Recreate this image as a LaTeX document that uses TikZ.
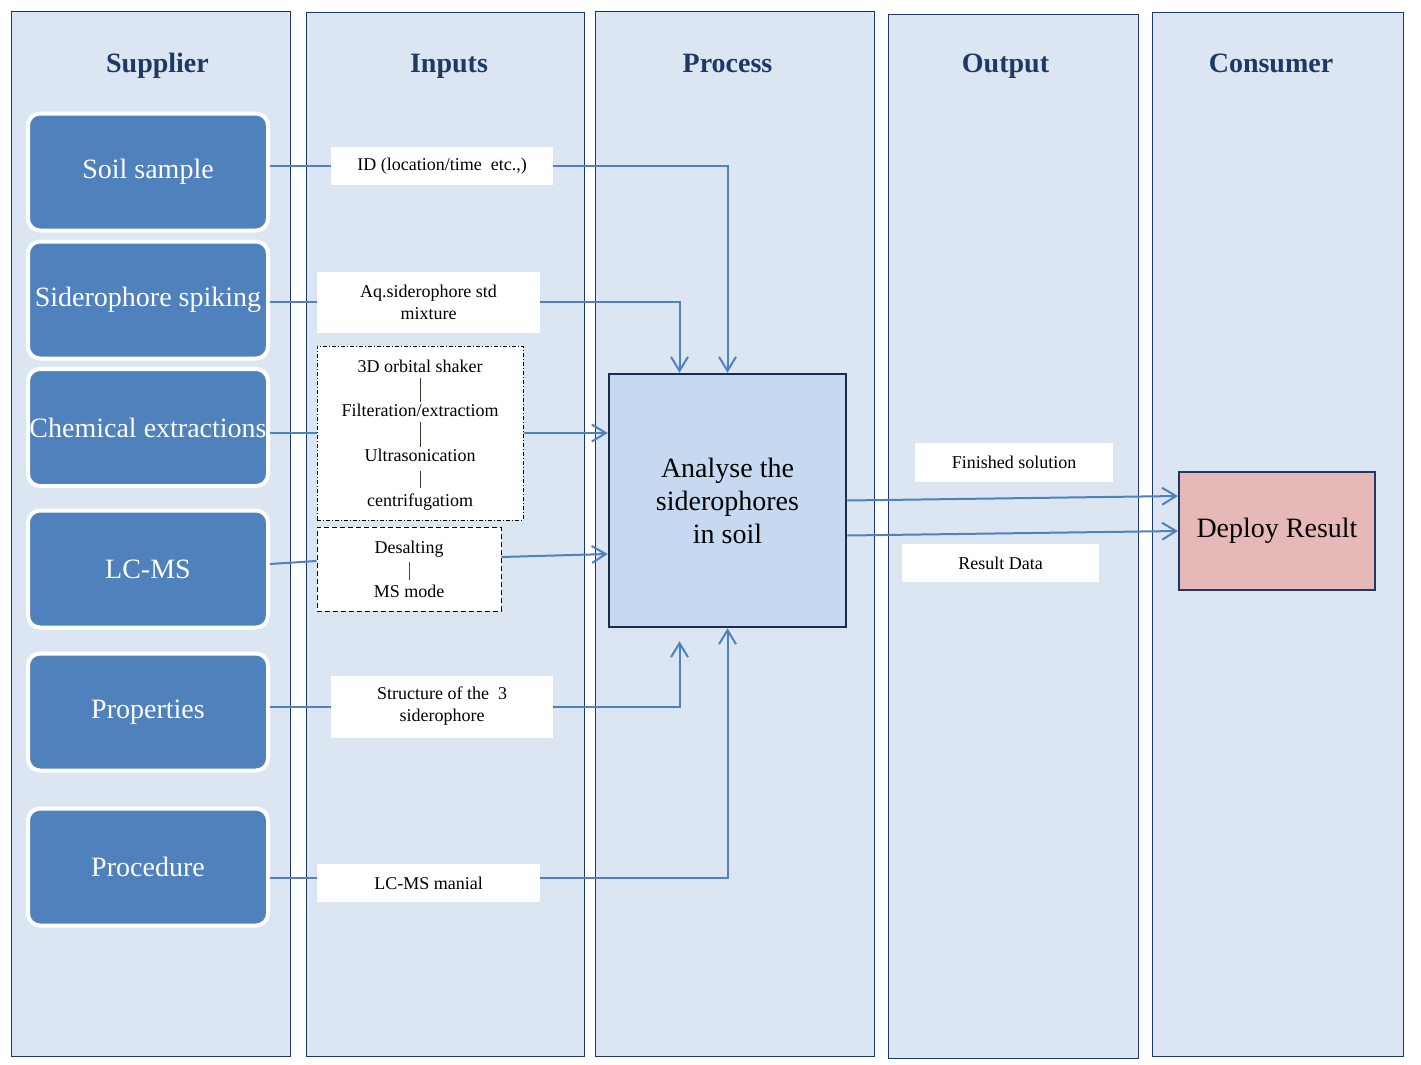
\documentclass[tikz,border=0pt]{standalone}
\usepackage{fontspec}
\setmainfont{Liberation Serif}
\usepackage{tikz}
\usetikzlibrary{arrows.meta}

\definecolor{lanefill}{HTML}{DCE6F2}
\definecolor{navy}{HTML}{1F3864}
\definecolor{boxblue}{HTML}{4F81BD}
\definecolor{procfill}{HTML}{C6D9F1}
\definecolor{deployfill}{HTML}{E6B9B8}
\definecolor{barone}{HTML}{3A3A2A}
\definecolor{bartwo}{HTML}{4B3B7A}

\begin{document}
\begin{tikzpicture}[x=1pt,y=-1pt,
lane/.style={draw=navy, fill=lanefill, line width=1pt},
ttl/.style={anchor=base, text=navy, font=\fontsize{28}{33}\selectfont\bfseries},
src/.style={rounded corners=12pt, fill=boxblue, draw=white, line width=4pt,
                minimum width=240pt, minimum height=117pt, inner sep=0pt,
                text=white, font=\fontsize{28}{33}\selectfont},
lbl/.style={fill=white, inner sep=0pt, align=center,
                font=\fontsize{18}{22}\selectfont},
stage/.style={inner sep=2pt, text height=12pt, text depth=4pt,
                font=\fontsize{18}{22}\selectfont},
link/.style={draw=boxblue, line width=2pt},
flow/.style={link, -{Straight Barb[length=14pt,width=17pt]}}]
    \useasboundingbox (0,0) rectangle (1421,1065);
    % lanes
    \draw[lane] (11,12) rectangle (290,1056);
    \draw[lane] (306,13) rectangle (584,1056);
    \draw[lane] (595,12) rectangle (874,1056);
    \draw[lane] (888,15) rectangle (1138,1058);
    \draw[lane] (1152,13) rectangle (1403,1056);
    \node[ttl] (tsup) at (157.5,72) {Supplier};
    \node[ttl] (tin) at (449,72) {Inputs};
    \node[ttl] (tpro) at (727.5,72) {Process};
    \node[ttl] (tout) at (1005.5,72) {Output};
    \node[ttl] (tcon) at (1271,72) {Consumer};
    % supplier
    \node[src] (soil) at (148,172) {Soil sample};
    \node[src] (spike) at (148,300) {Siderophore spiking};
    \node[src] (chem) at (148,427.5) {Chemical extractions};
    \node[src] (lcms) at (148,569) {LC-MS};
    \node[src] (props) at (148,712) {Properties};
    \node[src] (procd) at (148,867) {Procedure};
    % inputs
    \node[lbl, minimum width=222pt, minimum height=38pt] (id) at (442,166)
        {ID (location/time~ etc.,)};
    \node[lbl, minimum width=223pt, minimum height=61pt] (aq) at (428.5,302)
        {Aq.siderophore std\\mixture};
    \node[lbl, minimum width=206pt, minimum height=174pt, draw=black, line width=1pt,
        dash pattern=on 4pt off 2pt on 1pt off 2pt] (extract) at (420,433) {};
    \node[stage] (shaker) at (420,368) {3D orbital shaker};
    \node[stage] (filter) at (420,412) {Filteration/extractiom};
    \node[stage] (sonic) at (420,457) {Ultrasonication};
    \node[stage] (centri) at (420,502) {centrifugatiom};
    \node[lbl, minimum width=184pt, minimum height=84pt, draw=black, line width=1pt,
        dash pattern=on 5pt off 3pt] (desalt) at (409,569) {};
    \node[stage] (dsalt) at (409,549) {Desalting};
    \node[stage] (msmode) at (409,593) {MS mode};
    \node[lbl, minimum width=222pt, minimum height=62pt] (struct) at (442,706.5)
        {Structure of the~ 3\\siderophore};
    \node[lbl, minimum width=223pt, minimum height=38pt] (manual) at (428.5,883)
        {LC-MS manial};
    % process, output, consumer
    \node[draw=navy!80!black, fill=procfill, line width=2.5pt, minimum width=237pt,
        minimum height=253pt, align=center, font=\fontsize{28}{33}\selectfont]
        (proc) at (727.5,500.5) {Analyse the\\siderophores\\in soil};
    \node[lbl, minimum width=198pt, minimum height=39pt] (fin) at (1014,462)
        {Finished solution};
    \node[lbl, minimum width=197pt, minimum height=38pt] (res) at (1000.5,563)
        {Result Data};
    \node[draw=navy, fill=deployfill, line width=2pt, minimum width=196pt,
        minimum height=118pt, font=\fontsize{28}{33}\selectfont]
        (deploy) at (1277,531) {Deploy Result};
    % separators
    \draw[barone, line width=1pt, shorten <=4pt, shorten >=4pt]
        (shaker) -- (filter) (filter) -- (sonic) (sonic) -- (centri);
    \draw[bartwo, line width=1pt, shorten <=3pt, shorten >=3pt] (dsalt) -- (msmode);
    % connectors
    \coordinate (mline) at ([yshift=5pt]manual.west);
    \draw[link] (soil.east |- id.west) -- (id.west);
    \draw[flow] (id.east) -| (proc.north);
    \draw[link] (spike.east |- aq.west) -- (aq.west);
    \draw[flow] (aq.east) -| ([xshift=-48pt]proc.north);
    \draw[link] (chem.east |- extract.west) -- (extract.west);
    \draw[flow] (extract.east) -- (extract.east -| proc.west);
    \draw[link] ([yshift=5pt]lcms.east) -- ([yshift=8pt]desalt.west);
    \draw[flow] ([yshift=12pt]desalt.east) -- ([yshift=-53.5pt]proc.west);
    \draw[link] (props.east |- struct.west) -- (struct.west);
    \draw[flow, shorten >=13pt] (struct.east) -| ([xshift=-48pt]proc.south);
    \draw[link] (procd.east |- mline) -- (mline);
    \draw[flow] ([yshift=5pt]manual.east) -| (proc.south);
    \draw[flow] (proc.east) -- ([yshift=35pt]deploy.west);
    \draw[flow] ([yshift=-35pt]proc.east) -- (deploy.west);
\end{tikzpicture}
\end{document}
